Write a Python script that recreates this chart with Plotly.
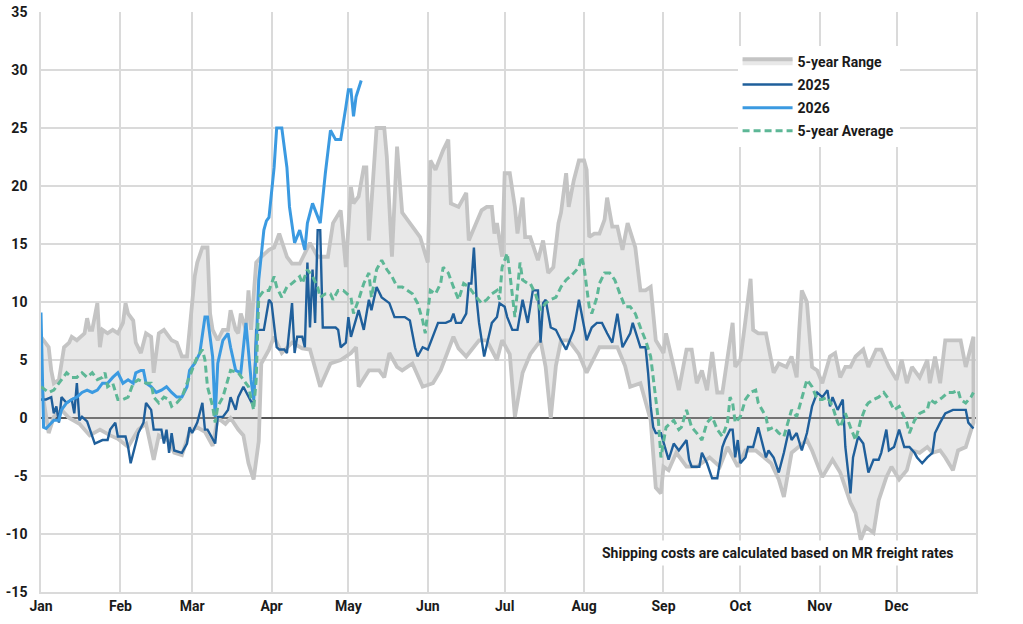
import pandas as pd
import plotly.graph_objects as go

# ---- data: (day-of-year offset, value) ----
RANGE_UPPER = [(0,7.0),(3,6.1),(4,4.1),(5,3.0),(7,3.3),(9,6.1),(11,6.5),(12,7.0),(14,6.7),(17,7.3),(18,8.6),(19,7.6),(20,7.6),
    (22,9.9),(23,6.1),(24,7.6),(26,7.3),(28,7.6),(30,7.3),(32,8.2),(33,9.9),(34,9.0),(36,8.4),(37,6.5),(39,5.6),(41,7.3),(43,7.0),
    (44,3.9),(46,7.3),(48,7.6),(50,7.0),(51,6.7),(53,6.5),(55,5.3),(57,5.3),(59,10.4),(60,12.2),(61,13.4),(63,14.7),(65,14.7),(66,9.0),
    (67,7.6),(69,6.7),(71,7.6),(73,7.6),(74,9.3),(76,7.6),(77,7.3),(78,9.0),(80,7.6),(81,11.0),(82,7.6),(84,13.4),(86,13.9),(89,14.5),
    (91,14.7),(93,15.9),(96,13.9),(98,13.3),(101,13.3),(105,15.1),(108,13.9),(112,13.9),(114,16.8),(117,17.9),(119,13.0),(121,19.9),
    (122,18.5),(124,19.1),(126,21.6),(127,21.6),(128,15.3),(131,25.0),(134,25.0),(135,22.5),(137,13.9),(139,23.4),(141,17.7),(144,16.8),
    (148,15.6),(151,13.4),(152,22.2),(154,21.4),(157,23.1),(159,24.0),(160,18.5),(163,18.2),(166,19.4),(167,15.3),(172,17.9),(174,18.2),
    (176,18.2),(177,15.9),(178,16.8),(180,13.9),(181,21.1),(183,21.1),(185,18.2),(186,15.9),(188,19.0),(189,15.6),(191,15.6),(194,13.6),
    (196,15.3),(198,12.5),(200,13.0),(202,16.8),(203,17.7),(205,21.1),(206,18.2),(208,20.5),(210,22.2),(212,22.2),(213,21.4),(214,15.6),
    (216,15.9),(218,15.9),(220,17.1),(221,19.0),(223,16.5),(225,16.5),(227,14.5),(229,16.8),(231,15.3),(232,14.7),(234,11.0),(236,11.0),
    (238,11.3),(240,6.7),(243,5.6),(244,7.3),(247,4.4),(249,2.4),(252,5.9),(254,5.9),(256,3.0),(258,4.1),(260,2.4),(262,5.7),(264,2.2),
    (266,2.2),(269,6.7),(270,8.2),(271,4.4),(273,5.0),(275,8.4),(277,12.0),(278,7.6),(280,7.3),(283,7.3),(286,3.9),(288,4.7),(291,4.4),
    (293,5.3),(295,3.5),(296,7.6),(297,11.0),(299,10.0),(301,4.4),(303,4.1),(305,3.0),(308,5.3),(310,5.6),(312,3.5),(314,4.4),(316,4.4),
    (318,5.3),(321,5.9),(323,4.4),(326,5.9),(328,5.9),(331,4.4),(334,3.3),(336,5.0),(338,3.0),(340,4.4),(343,3.5),(346,5.0),(347,3.0),
    (349,5.3),(351,3.0),(353,6.7),(356,6.7),(359,6.7),(361,4.4),(364,7.0)]

RANGE_LOWER = [(0,3.0),(2,0.1),(3,-1.3),(5,0.1),(8,0.7),(11,0.0),(15,-0.5),(19,-1.5),(23,-1.0),(27,-1.5),(30,-1.8),(34,-2.5),
    (38,-1.0),(41,-0.5),(44,-3.6),(46,-1.5),(50,-2.0),(52,-3.0),(55,-3.2),(58,-1.2),(61,-0.8),(64,-1.2),(67,-2.4),(69,0.0),(72,-0.5),
    (74,0.0),(77,-1.0),(79,-1.5),(81,-3.9),(83,-5.3),(85,-2.0),(86,4.7),(89,5.9),(91,7.0),(94,5.6),(98,6.5),(102,6.0),(105,5.9),
    (109,2.7),(113,4.7),(117,5.0),(121,5.6),(123,6.1),(124,2.7),(128,4.1),(132,4.1),(134,3.5),(136,5.6),(139,4.4),(141,4.1),(145,4.7),
    (149,2.7),(153,3.0),(156,4.1),(161,7.0),(163,6.0),(166,5.3),(171,6.7),(174,6.7),(178,5.0),(180,6.7),(183,5.5),(185,0.1),(188,3.9),
    (191,5.5),(195,6.7),(197,4.4),(199,0.0),(201,4.5),(203,6.7),(206,6.7),(210,5.5),(213,3.9),(218,6.1),(222,6.1),(225,6.1),(228,4.5),
    (230,2.7),(234,3.0),(236,1.5),(238,-0.2),(240,-6.0),(242,-6.5),(243,-4.2),(245,-4.5),(248,-3.0),(252,-4.2),(256,-4.2),(261,-3.4),
    (265,-4.2),(268,-2.5),(272,-4.2),(275,-2.8),(279,-2.8),(285,-3.9),(288,-5.3),(290,-6.8),(293,-3.0),(299,-1.9),(301,-2.8),(305,-5.1),
    (309,-3.6),(312,-4.7),(316,-7.3),(318,-8.2),(320,-10.5),(322,-9.4),(325,-9.9),(327,-7.1),(330,-5.1),(332,-4.2),(335,-5.3),(338,-4.5),
    (340,-2.8),(343,-3.0),(346,-2.5),(348,-3.0),(351,-2.8),(353,-3.4),(356,-4.5),(358,-2.8),(361,-2.5),(364,-0.4)]

Y2025 = [(0,1.6),(2,1.6),(4,1.8),(5,0.4),(6,1.0),(7,-0.4),(8,1.8),(10,1.3),(12,1.6),(13,0.4),(14,3.0),(15,-0.2),(16,0.1),(18,-0.3),
    (21,-2.2),(24,-1.9),(26,-1.9),(27,-1.0),(29,-0.4),(30,-1.6),(33,-1.6),(34,-2.5),(35,-3.9),(37,-2.2),(38,-1.3),(40,-0.4),(41,1.3),
    (43,0.7),(44,-1.0),(45,-1.0),(47,-1.0),(48,-2.2),(49,-1.0),(50,-3.0),(51,-1.3),(52,-2.8),(55,-3.0),(57,-2.2),(58,-0.8),(59,-1.3),
    (61,-0.4),(63,1.3),(64,-1.0),(65,-1.0),(68,-2.2),(69,0.1),(71,0.1),(73,0.7),(74,1.8),(76,0.7),(77,1.8),(79,2.7),(81,1.8),(83,1.0),
    (84,7.6),(87,7.6),(89,10.2),(90,9.9),(92,6.1),(93,5.9),(95,5.9),(96,5.6),(98,9.9),(99,5.6),(100,7.0),(102,7.0),(103,6.1),(104,13.4),
    (105,7.8),(106,12.8),(107,8.2),(108,16.2),(109,16.2),(110,7.8),(112,7.8),(114,7.8),(115,7.8),(116,7.6),(117,6.1),(119,6.5),(120,8.7),
    (121,7.0),(123,8.7),(124,9.3),(126,7.6),(128,10.2),(129,9.3),(131,11.3),(133,10.4),(136,9.9),(138,8.7),(140,8.7),(142,8.7),(144,8.4),
    (146,6.1),(147,5.3),(149,6.1),(151,5.9),(153,7.0),(155,8.2),(158,8.2),(160,8.4),(161,9.0),(162,8.2),(164,8.2),(166,9.0),(167,11.6),
    (168,11.6),(169,14.7),(170,10.4),(171,8.2),(173,5.3),(176,8.2),(178,8.7),(179,9.9),(181,9.6),(182,8.7),(184,7.6),(186,7.6),(188,10.2),
    (190,8.2),(192,11.0),(194,11.0),(195,6.5),(196,9.9),(197,10.2),(199,7.8),(201,7.6),(203,6.7),(205,5.9),(208,7.6),(210,10.2),(213,6.7),
    (215,7.8),(217,8.2),(219,8.2),(221,7.3),(223,6.5),(225,9.0),(227,6.1),(230,7.3),(231,8.2),(234,6.1),(236,6.1),(237,3.9),(238,1.0),
    (239,-0.8),(240,-1.3),(242,-1.3),(244,-2.8),(245,-3.6),(247,-2.2),(249,-2.8),(252,-1.9),(253,-3.6),(254,-4.2),(257,-4.2),(258,-3.0),
    (260,-3.9),(262,-5.2),(264,-5.2),(266,-2.5),(267,-1.9),(269,-1.0),(270,-1.0),(271,-3.4),(272,-1.9),(273,-3.9),(275,-3.4),(276,-2.5),
    (278,-2.5),(280,-0.8),(281,-1.6),(283,-3.4),(284,-2.8),(286,-3.4),(288,-4.7),(290,-3.0),(292,-1.0),(293,-1.9),(295,-1.3),(297,-2.8),
    (299,-1.3),(301,1.0),(303,2.2),(305,1.8),(307,2.4),(308,1.0),(309,1.8),(311,0.7),(313,1.6),(314,-2.5),(316,-6.5),(317,-3.4),(319,-1.6),
    (321,-2.2),(323,-4.7),(325,-3.6),(327,-3.6),(328,-3.0),(330,-1.0),(331,-2.8),(333,-2.5),(335,-1.0),(337,-2.5),(339,-2.5),(341,-3.0),
    (342,-3.4),(344,-3.9),(346,-3.4),(348,-3.0),(349,-1.3),(351,-0.4),(353,0.4),(356,0.7),(358,0.7),(361,0.7),(362,-0.4),(364,-0.9)]

Y2026 = [(0,9.1),(1,-0.8),(2,-0.9),(5,-0.2),(7,-0.2),(8,0.7),(10,1.3),(12,1.6),(14,1.8),(16,2.2),(18,2.4),(20,2.2),(22,2.4),(24,3.0),
    (26,3.0),(28,3.5),(30,3.9),(31,3.5),(32,3.0),(34,3.3),(36,3.0),(37,3.9),(39,4.1),(40,4.1),(41,3.0),(43,2.7),(45,2.2),(47,2.4),(49,2.7),
    (51,2.2),(53,1.8),(55,1.8),(57,2.7),(58,4.1),(60,4.7),(62,5.6),(64,8.7),(65,8.7),(67,5.3),(68,0.1),(69,4.7),(71,6.7),(73,7.3),(74,6.1),
    (76,4.1),(78,3.9),(80,8.2),(82,3.3),(83,1.6),(84,6.1),(85,11.9),(87,16.2),(88,17.0),(89,17.3),(91,21.6),(92,25.0),(94,25.0),(96,21.6),
    (97,18.2),(99,15.1),(101,16.2),(103,14.5),(104,16.8),(106,18.5),(108,17.3),(109,16.8),(111,21.1),(113,24.8),(115,24.0),(117,24.0),
    (119,26.8),(120,28.3),(121,28.3),(122,26.0),(123,27.7),(125,29.1)]

AVG5 = [(0,2.7),(3,2.2),(5,2.4),(8,3.3),(10,3.9),(12,3.5),(14,3.5),(16,3.9),(18,3.5),(20,3.9),(22,3.3),(24,3.5),(25,3.9),(26,2.7),
    (28,3.0),(30,1.6),(32,1.6),(34,1.8),(36,3.0),(38,3.3),(41,3.0),(43,3.0),(44,1.8),(46,1.3),(48,1.8),(50,1.6),(51,1.0),(53,1.3),(55,1.8),
    (57,3.0),(59,4.1),(61,5.3),(63,5.9),(64,5.0),(65,2.7),(67,1.0),(68,-0.4),(69,1.0),(71,1.8),(73,3.3),(74,4.1),(77,3.9),(79,3.3),(81,2.7),
    (83,0.7),(84,3.3),(85,10.4),(87,11.0),(89,11.0),(91,12.2),(92,11.3),(94,10.4),(96,11.3),(98,11.6),(101,12.2),(102,11.6),(104,12.8),
    (106,12.2),(108,11.3),(109,10.4),(111,10.7),(113,10.7),(114,10.2),(116,11.0),(118,11.0),(121,10.4),(122,9.0),(124,10.2),(126,11.6),
    (128,12.5),(129,10.4),(131,12.8),(133,13.6),(135,12.8),(137,12.2),(139,11.3),(141,11.3),(143,11.0),(145,10.7),(147,9.9),(149,8.4),
    (150,7.3),(152,11.0),(154,10.7),(156,11.6),(157,13.0),(159,12.5),(161,11.3),(163,10.2),(165,11.6),(167,11.3),(170,10.4),(172,9.9),
    (174,10.2),(176,10.7),(178,11.0),(179,10.2),(180,13.0),(182,14.2),(183,12.5),(185,8.7),(187,13.4),(188,11.9),(190,11.6),(191,11.6),
    (193,10.7),(195,9.3),(197,9.9),(199,10.2),(201,10.4),(203,11.3),(205,11.9),(208,12.5),(210,13.0),(211,13.9),(212,13.0),(214,9.6),
    (215,9.0),(217,10.4),(218,11.6),(220,12.5),(222,12.5),(224,11.9),(226,10.7),(228,9.6),(230,9.6),(232,9.0),(234,7.8),(236,6.7),(238,5.3),
    (239,3.3),(241,-0.2),(242,-3.4),(243,-1.9),(244,-0.8),(247,-0.2),(249,-1.0),(250,-0.8),(252,0.7),(254,-0.8),(256,-1.3),(258,-1.9),
    (260,-0.4),(262,0.1),(264,-1.0),(266,-1.6),(268,-0.4),(269,1.8),(270,1.3),(271,-0.4),(273,0.1),(275,1.6),(277,2.2),(279,2.4),(280,1.3),
    (283,0.1),(284,-1.0),(286,-0.8),(288,-1.3),(290,-1.6),(292,-0.2),(293,0.7),(295,0.1),(297,1.6),(299,3.3),(301,2.7),(303,1.6),(305,1.6),
    (307,1.8),(309,1.0),(311,-0.4),(312,-0.8),(314,0.4),(316,-0.8),(318,-1.9),(320,-0.2),(322,1.0),(323,1.3),(325,1.6),(327,1.8),(329,2.2),
    (331,1.6),(333,0.7),(335,1.0),(338,-0.4),(339,-1.3),(341,-0.2),(343,0.4),(346,0.7),(347,1.6),(349,1.3),(352,1.8),(354,2.2),(356,2.2),
    (358,2.4),(359,1.6),(361,1.3),(363,1.8),(364,2.2)]

MONTHS = ["Jan", "Feb", "Mar", "Apr", "May", "Jun", "Jul", "Aug", "Sep", "Oct", "Nov", "Dec"]
Y_TICKS = [-15, -10, -5, 0, 5, 10, 15, 20, 25, 30, 35]
Y_LABELS = ["-15", "-10", "-5", "0", "5", "10", "15", "20", "25", "30", "35"]
NOTE = "Shipping costs are calculated based on MR freight rates"

BASE = pd.Timestamp("2025-01-01")


def unzip(pairs):
    days = [p[0] for p in pairs]
    vals = [p[1] for p in pairs]
    dates = BASE + pd.to_timedelta(days, unit="D")
    return list(dates), vals


ux, uy = unzip(RANGE_UPPER)
lx, ly = unzip(RANGE_LOWER)
x25, v25 = unzip(Y2025)
x26, v26 = unzip(Y2026)
xav, vav = unzip(AVG5)

FONT = "Roboto, Arial, sans-serif"
TXT = "#1a1a1a"
fig = go.Figure()

fig.add_trace(go.Scatter(
    x=ux + lx[::-1], y=uy + ly[::-1], mode="lines", fill="toself",
    fillcolor="rgba(185,185,185,0.32)", line=dict(color="#c4c4c4", width=3.8),
    name="5-year Range", legendgroup="r", hoverinfo="skip"))
fig.add_trace(go.Scatter(x=x25, y=v25, mode="lines", name="2025", legendgroup="a",
                         line=dict(color="#1f5f9b", width=2.4)))
fig.add_trace(go.Scatter(x=x26, y=v26, mode="lines", name="2026", legendgroup="b",
                         line=dict(color="#3b9ae1", width=3)))
fig.add_trace(go.Scatter(x=xav, y=vav, mode="lines", name="5-year Average", legendgroup="c",
                         line=dict(color="#5db796", width=3, dash="7px,4px")))

month_starts = [BASE + pd.DateOffset(months=i) for i in range(12)]

fig.update_layout(
    width=1023, height=624,
    margin=dict(l=41, r=47, t=12, b=32, autoexpand=False),
    paper_bgcolor="white", plot_bgcolor="white",
    font=dict(family=FONT, size=13, color=TXT),
    showlegend=True,
    legend=dict(x=0.745, y=0.942, xanchor="left", yanchor="top",
                bgcolor="white", borderwidth=0, tracegroupgap=2,
                font=dict(family=FONT, size=14, color=TXT, weight="bold"),
                itemwidth=50),
    annotations=[dict(text=NOTE, xref="paper", yref="paper", x=0.788, y=0.067,
                      xanchor="center", yanchor="middle", showarrow=False,
                      bgcolor="white", borderpad=4,
                      font=dict(family=FONT, size=14, color=TXT, weight="bold"))],
)
fig.update_xaxes(
    type="date", range=[BASE, BASE + pd.Timedelta(days=365)], automargin=False,
    tickvals=month_starts, ticktext=MONTHS,
    showgrid=True, gridcolor="#dadada", gridwidth=1.5,
    showline=True, linecolor="#dadada", linewidth=1.5,
    ticks="", tickfont=dict(family=FONT, size=14, color=TXT, weight="bold"),
    zeroline=False,
)
fig.update_yaxes(
    range=[-15, 35], tickvals=Y_TICKS, ticktext=Y_LABELS, automargin=False,
    showgrid=True, gridcolor="#dadada", gridwidth=1.5,
    showline=True, linecolor="#dadada", linewidth=1.5, mirror=True,
    zeroline=True, zerolinecolor="#555555", zerolinewidth=1.6,
    ticks="", ticklabelstandoff=9,
    tickfont=dict(family=FONT, size=14, color=TXT, weight="bold"),
)

fig.write_html("out.html")
